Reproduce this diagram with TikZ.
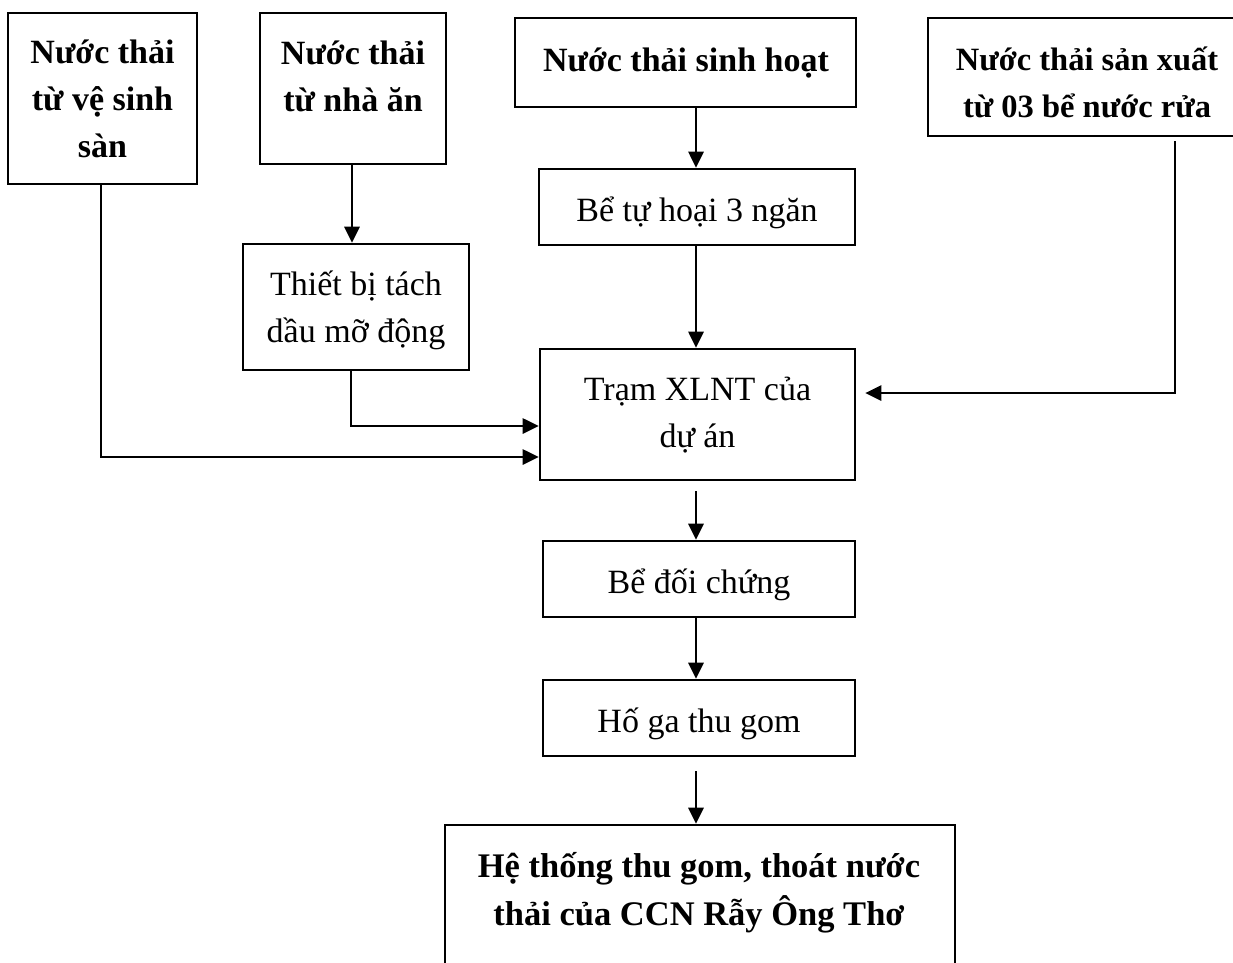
\documentclass[tikz,border=0pt]{standalone}
\usepackage{fontspec}
\setmainfont{Liberation Serif}
\usetikzlibrary{arrows.meta}
\begin{document}
\begin{tikzpicture}[x=1pt,y=-1pt,
  box/.style={draw=black, line width=2.6pt, inner sep=0pt, rectangle},
  lbl/.style={align=center, inner sep=0pt, font=\fontsize{34}{47}\selectfont},
  blbl/.style={lbl, font=\fontsize{34}{47}\selectfont\bfseries},
  arr/.style={line width=2.8pt, -{Triangle[length=16pt,width=15pt]}},
  link/.style={line width=2.8pt}]
\path[use as bounding box, clip] (0,0) rectangle (1233,962);

% source boxes
\node[box, minimum width=189pt, minimum height=171pt] (b1) at (102.5,98.5) {};
\node[blbl] (t1) at (102.5,99) {Nước thải\\từ vệ sinh\\sàn};

\node[box, minimum width=186pt, minimum height=151pt] (b2) at (353,88.5) {};
\node[blbl] (t2) at (353,76) {Nước thải\\từ nhà ăn};

\node[box, minimum width=341pt, minimum height=89pt] (b3) at (685.5,62.5) {};
\node[blbl] (t3) at (686,63) {Nước thải sinh hoạt};

\node[box, minimum width=312pt, minimum height=118pt] (b4) at (1084,77) {};
\node[blbl, font=\fontsize{32.5}{47}\selectfont\bfseries] (t4) at (1087,82) {Nước thải sản xuất\\từ 03 bể nước rửa};

% treatment chain
\node[box, minimum width=316pt, minimum height=76pt] (bt) at (697,207) {};
\node[lbl] (tbt) at (697,213) {Bể tự hoại 3 ngăn};

\node[box, minimum width=226pt, minimum height=126pt] (tb) at (356,307) {};
\node[lbl] (ttb) at (356,310) {Thiết bị tách\\dầu mỡ động};

\node[box, minimum width=315pt, minimum height=131pt] (xl) at (697.5,414.5) {};
\node[lbl] (txl) at (697.5,415.5) {Trạm XLNT của\\dự án};

\node[box, minimum width=312pt, minimum height=76pt] (bd) at (699,579) {};
\node[lbl] (tbd) at (699,585) {Bể đối chứng};

\node[box, minimum width=312pt, minimum height=76pt] (hg) at (699,718) {};
\node[lbl] (thg) at (699,724) {Hố ga thu gom};

\node[box, minimum width=510pt, minimum height=200pt] (ht) at (700,925) {};
\node[blbl, font=\fontsize{34.5}{48}\selectfont\bfseries] (tht) at (699,893) {Hệ thống thu gom, thoát nước\\thải của CCN Rẫy Ông Thơ};

% connectors
\draw[arr] ([xshift=-1.5pt]b1.south) |- ([yshift=-42.5pt]xl.west);
\draw[arr] ([xshift=-1pt]b2.south) -- ([xshift=-4pt]tb.north);
\draw[arr] ([xshift=-5pt]tb.south) |- ([yshift=-11.5pt]xl.west);
\draw[arr] ([xshift=10.5pt]b3.south) -- ([xshift=-1pt]bt.north);
\draw[arr] ([xshift=-1pt]bt.south) -- ([xshift=-1.5pt]xl.north);
\coordinate (p4) at (1175,141);
\draw[arr] (p4) |- ([xshift=9pt,yshift=21.5pt]xl.east);
\draw[arr] ([xshift=-1.5pt,yshift=-10pt]xl.south) -- ([xshift=-3pt]bd.north);
\draw[arr] ([xshift=-3pt]bd.south) -- ([xshift=-3pt]hg.north);
\draw[arr] ([xshift=-3pt,yshift=-14pt]hg.south) -- ([xshift=-4pt]ht.north);
\end{tikzpicture}
\end{document}
